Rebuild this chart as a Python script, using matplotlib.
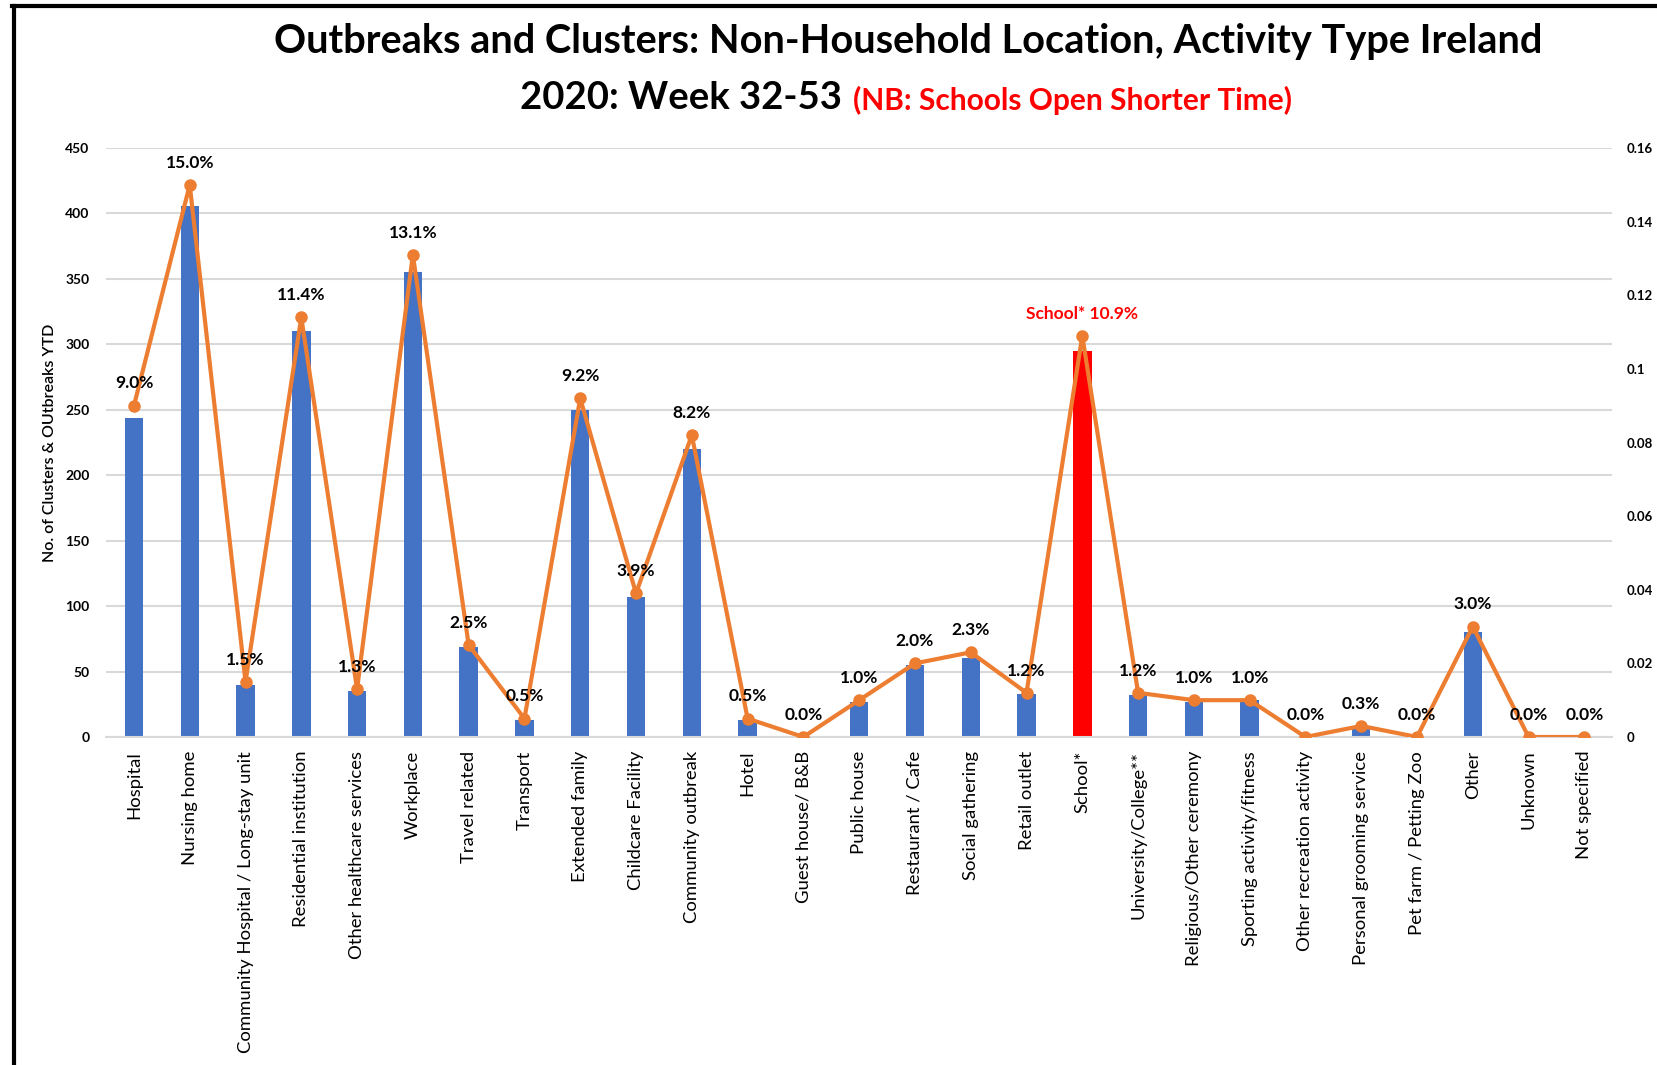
"""Outbreaks and clusters by non-household location / activity type, Ireland 2020 wk 32-53."""

import matplotlib
matplotlib.use("Agg")
import matplotlib.pyplot as plt
from matplotlib.lines import Line2D
from matplotlib.ticker import FuncFormatter

# --- data -------------------------------------------------------------------
categories = [
    "Hospital", "Nursing home", "Community Hospital / Long-stay unit",
    "Residential institution", "Other healthcare services", "Workplace",
    "Travel related", "Transport", "Extended family", "Childcare Facility",
    "Community outbreak", "Hotel", "Guest house/ B&B", "Public house",
    "Restaurant / Cafe", "Social gathering", "Retail outlet", "School*",
    "University/College**", "Religious/Other ceremony",
    "Sporting activity/fitness", "Other recreation activity",
    "Personal grooming service", "Pet farm / Petting Zoo", "Other",
    "Unknown", "Not specified",
]
counts = [244, 406, 40, 310, 35, 355, 69, 13, 250, 107, 220, 13, 0, 27,
          55, 60, 33, 295, 32, 27, 28, 1, 6, 0, 80, 1, 0]
share = [0.090, 0.150, 0.015, 0.114, 0.013, 0.131, 0.025, 0.005, 0.092,
         0.039, 0.082, 0.005, 0.000, 0.010, 0.020, 0.023, 0.012, 0.109,
         0.012, 0.010, 0.010, 0.000, 0.003, 0.000, 0.030, 0.000, 0.000]
highlight = "School*"

left_ticks = [0, 50, 100, 150, 200, 250, 300, 350, 400, 450]
right_ticks = [0, 0.02, 0.04, 0.06, 0.08, 0.10, 0.12, 0.14, 0.16]

BLUE = "#4472C4"
ORANGE = "#ED7D31"
RED = "#FF0000"
GRID = "#D9D9D9"

plt.rcParams["font.family"] = ["Lato", "DejaVu Sans"]

fig = plt.figure(figsize=(16.57, 10.65), dpi=100)
ax = fig.add_axes([0.064, 0.308, 0.909, 0.553])

x = list(range(len(categories)))
bar_colors = [RED if c == highlight else BLUE for c in categories]
ax.bar(x, counts, width=0.33, color=bar_colors, zorder=2)

ax.set_xlim(-0.5, len(categories) - 0.5)
ax.set_ylim(0, 450)
ax.set_yticks(left_ticks)
ax.yaxis.grid(True, color=GRID, lw=1.5, zorder=0)
ax.set_axisbelow(True)
for side in ("top", "right", "left"):
    ax.spines[side].set_visible(False)
ax.spines["bottom"].set_color(GRID)
ax.spines["bottom"].set_linewidth(1.5)
ax.tick_params(axis="both", length=0)
ax.tick_params(axis="y", labelsize=10, pad=12)
for lbl in ax.get_yticklabels():
    lbl.set_fontweight("bold")

ax.set_xticks(x)
ax.set_xticklabels(categories, rotation=90, fontsize=13.3, va="top")
ax.tick_params(axis="x", pad=10)

ax.set_ylabel("No. of Clusters & OUtbreaks YTD", fontsize=11.5,
              fontweight="semibold", labelpad=6)

# share of total on the secondary axis
ax2 = ax.twinx()
ax2.set_ylim(0, 0.16)
ax2.set_yticks(right_ticks)
ax2.yaxis.set_major_formatter(FuncFormatter(lambda v, _: f"{v:g}"))
for side in ("top", "right", "left", "bottom"):
    ax2.spines[side].set_visible(False)
ax2.tick_params(axis="y", length=0, labelsize=9.5, pad=10)
for lbl in ax2.get_yticklabels():
    lbl.set_fontweight("bold")

ax2.plot(x, share, color=ORANGE, lw=3, marker="o", markersize=8,
         solid_joinstyle="round", zorder=3)

for xi, cat, s in zip(x, categories, share):
    if cat == highlight:
        text, color = f"{cat} {s * 100:.1f}%", RED
    else:
        text, color = f"{s * 100:.1f}%", "black"
    ax2.annotate(text, (xi, s), xytext=(0, 16), textcoords="offset points",
                 ha="center", va="center", fontsize=12.5, fontweight="bold",
                 color=color)

# title block
fig.text(0.548, 0.961, "Outbreaks and Clusters: Non-Household Location, Activity Type Ireland",
         ha="center", va="center", fontsize=28.6, fontweight="bold")
fig.text(0.508, 0.908, "2020: Week 32-53", ha="right", va="center",
         fontsize=27.5, fontweight="bold")
fig.text(0.515, 0.906, "(NB: Schools Open Shorter Time)", ha="left",
         va="center", fontsize=21.5, fontweight="bold", color=RED)

# black frame on the left and top edges
fig.add_artist(Line2D([0.0085, 0.0085], [0.0, 0.9945], transform=fig.transFigure,
                      color="black", lw=3))
fig.add_artist(Line2D([0.0075, 1.0], [0.9945, 0.9945], transform=fig.transFigure,
                      color="black", lw=3))

fig.savefig("out.png", dpi=100)
